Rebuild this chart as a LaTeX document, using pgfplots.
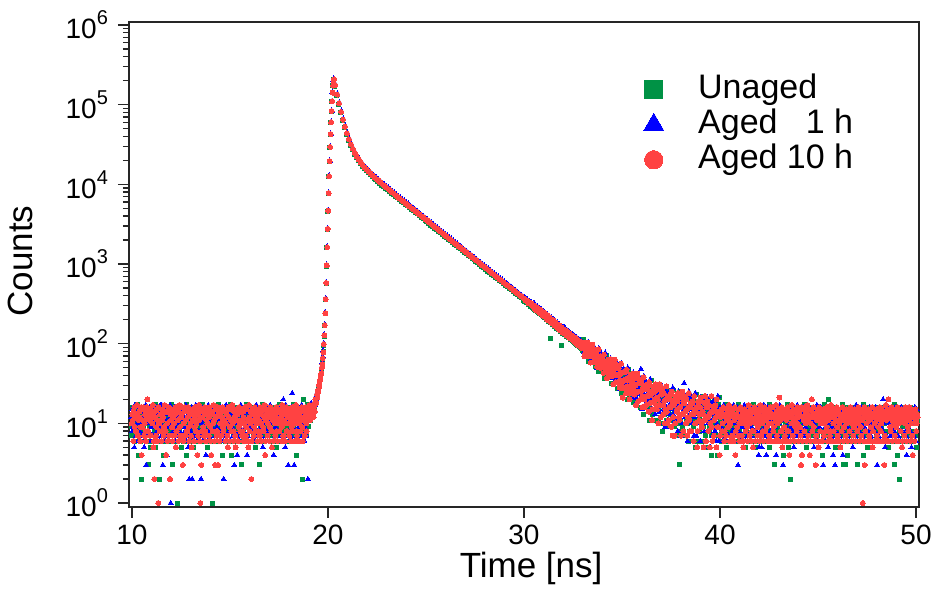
\documentclass[border=0pt]{standalone}
\usepackage{pgfplots}
\pgfplotsset{compat=1.18}
\usepackage{pgfplotstable}
\usepackage{fontspec}
\setmainfont{Liberation Sans}
\definecolor{cG}{RGB}{0,146,69}
\definecolor{cB}{RGB}{0,0,255}
\definecolor{cR}{RGB}{255,66,66}
\newcommand{\ex}[1]{10\raisebox{7pt}{\fontsize{10}{10}\selectfont #1}}
\pgfplotsset{
 gmark/.style={only marks, mark=square*, mark size=1pt, color=cG, mark options={solid, line width=0pt}, forget plot},
 bmark/.style={only marks, mark=triangle*, mark size=1.45pt, color=cB, mark options={solid, line width=0pt}, forget plot},
 rmark/.style={only marks, mark=*, mark size=1.25pt, color=cR, mark options={solid, line width=0pt}, forget plot},
 mylegimg/.style={legend image code/.code={\path (0pt,-5pt) (30pt,5pt); \draw[##1] plot coordinates {(8pt,0pt)};}},
}
% columns: Unaged, Aged 1 h, Aged 10 h  (counts)
% background before the pulse, t = 9.96 + 0.05 i
\pgfplotstableread[header=false]{
9 12 10
13 8 11
7 11 14
11 5 9
10 14 8
12 9 13
8 10 7
14 13 11
4 7 12
11 10 9
10 15 4
2 9 11
12 11 16
9 5 10
15 12 8
8 3 12
11 10 20
13 8 14
3 12 11
10 16 7
5 9 13
12 11 10
9 13 5
11 7 2
14 10 12
5 12 9
10 8 11
12 11 1
8 14 10
2 9 13
13 10 8
9 17 11
11 3 12
4 12 9
15 8 14
10 11 4
12 4 10
6 13 15
11 9 7
9 12 2
14 1 11
10 10 9
3 14 12
12 7 10
8 11 13
11 9 5
16 12 8
1 10 11
9 15 14
13 8 9
10 11 12
5 13 7
12 6 3
11 10 10
9 12 16
14 9 11
4 14 8
10 11 12
13 5 9
8 2 13
11 10 10
9 12 5
12 2 11
10 9 14
5 11 9
15 13 12
10 8 10
8 16 4
12 10 13
11 7 11
9 12 1
13 2 3
7 10 12
10 14 9
12 9 15
16 11 8
9 4 11
11 13 10
5 10 14
10 8 12
13 12 9
8 11 4
11 9 13
1 14 10
12 10 11
9 6 3
14 12 12
10 9 8
7 13 3
12 11 15
11 8 10
9 15 7
13 10 12
4 12 9
10 2 11
12 9 14
8 11 10
15 7 13
11 13 5
9 10 12
12 16 9
10 8 11
4 11 15
13 9 10
9 12 8
11 3 12
14 10 5
8 13 11
10 4 13
12 11 9
9 14 10
11 9 14
15 7 11
3 12 8
10 10 12
12 13 10
7 9 16
11 11 9
13 4 11
9 12 5
10 15 12
12 10 10
8 9 2
14 11 13
11 8 11
9 13 9
13 10 14
5 12 10
10 7 12
12 11 8
11 14 11
3 10 13
9 9 10
14 12 15
10 5 9
12 11 12
8 13 4
11 10 11
15 8 13
9 12 10
10 9 12
13 11 9
7 14 14
11 10 5
12 12 11
9 4 13
14 11 10
10 9 12
5 13 8
12 10 11
11 12 14
9 8 10
13 11 12
10 17 9
12 10 13
8 20 11
15 13 10
11 5 15
9 12 8
10 11 12
12 3 10
14 10 13
8 14 11
11 9 9
10 24 12
13 11 14
9 3 10
12 12 12
10 10 8
4 13 11
13 9 13
11 11 10
9 14 15
12 8 12
16 12 9
2 10 11
20 13 14
11 9 12
10 12 10
13 11 13
12 2 12
9 13 14
14 11 11
11 15 13
13 12 16
12 14 13
}\bgL
% background before the pulse, interleaved channels, t = 9.985 + 0.05 i
\pgfplotstableread[header=false]{
7 15 13
16 9 6
11 6 16
6 17 12
14 7 8
9 13 17
17 6 7
7 16 14
13 8 6
6 14 16
15 7 9
8 12 15
16 6 7
7 15 13
12 17 6
14 7 16
6 13 8
15 8 14
9 16 7
7 6 15
16 14 12
6 7 17
14 15 6
8 6 14
17 13 7
7 16 15
13 7 6
6 14 16
15 6 8
8 17 13
16 7 6
6 13 15
14 8 7
7 16 17
12 6 8
16 15 14
6 7 6
15 14 16
7 6 7
14 17 13
8 7 15
17 15 6
6 8 14
13 16 7
16 6 16
7 14 8
14 7 15
6 13 6
15 8 17
8 16 7
16 6 13
7 15 16
13 7 6
6 14 14
15 8 7
9 17 15
17 6 8
6 13 16
14 7 6
7 15 14
16 8 7
8 16 15
6 6 13
15 14 6
13 7 16
7 17 8
16 6 14
6 15 7
14 8 17
8 13 6
15 7 15
7 16 8
17 6 14
6 14 7
13 7 16
7 15 6
16 8 13
8 6 15
14 17 7
6 7 16
15 14 6
7 6 14
16 15 8
8 8 17
13 16 6
6 7 15
15 13 7
7 6 16
14 15 13
17 8 6
6 16 14
15 7 7
8 14 16
16 6 8
7 15 15
13 7 6
6 17 14
16 6 7
7 14 16
14 8 6
8 15 15
17 6 8
6 13 17
15 7 6
7 16 14
14 8 7
6 6 15
16 15 13
8 7 6
13 14 16
7 6 8
15 17 15
6 7 7
16 13 14
8 8 6
14 16 16
6 6 7
17 15 15
7 7 6
13 14 17
6 8 8
15 16 14
8 6 6
16 13 15
7 7 7
14 15 16
6 6 8
15 17 13
7 8 6
16 14 15
8 6 7
13 16 16
6 7 6
17 15 14
7 6 8
14 13 17
6 8 6
15 16 15
8 7 7
16 14 14
7 6 6
13 17 16
6 8 8
15 15 13
7 6 6
16 14 15
8 7 7
14 16 16
6 6 6
15 13 14
7 8 8
17 15 15
6 7 6
14 16 17
8 6 7
16 14 14
7 7 6
13 17 16
6 8 8
15 15 13
8 6 7
16 13 15
7 7 6
14 16 16
6 6 8
17 14 14
7 8 6
15 15 17
6 7 7
16 16 15
8 6 6
13 13 14
7 8 8
15 17 16
6 7 6
16 14 15
8 6 7
14 16 16
7 7 8
17 15 14
9 13 15
15 16 17
12 14 13
16 18 15
14 15 17
15 17 16
}\bgM
% rising edge, t = 19.25 + 0.025 i
\pgfplotstableread[header=false]{
13 16 12
17 14 15
15 18 17
16 19 14
19 17 20
18 22 19
21 20 18
20 24 23
24 23 21
23 27 26
28 26 25
27 31 30
32 30 29
31 36 34
37 35 36
39 43 41
45 44 42
48 52 50
57 58 55
64 69 66
80 82 78
96 102 99
124 131 127
168 176 171
236 249 241
355 372 362
562 590 578
941 980 958
1600 1660 1625
2720 2810 2760
4620 4760 4680
7680 7900 7770
12480 12800 12600
19350 19800 19520
29300 29900 29520
42400 43100 42700
59900 60800 60300
82700 83900 83200
109000 110500 109700
140500 142300 141300
172900 175100 173900
198500 201200 199600
208000 210500 209000
}\rise
% decay, t = 20.35 + 0.1 i
\pgfplotstableread[header=false]{
171000 181000 176000
130000 138500 134000
100500 107000 103500
79000 84000 81300
63000 67000 65000
51200 54500 52800
42400 45100 43700
35800 38100 36900
30800 32800 31800
27000 28700 27900
24000 25600 24800
21700 23000 22350
19800 21000 20400
18200 19400 18800
16900 18000 17450
15800 16800 16300
14850 15800 15300
14000 14900 14450
13250 14050 13650
12550 13350 12950
11900 12650 12280
11350 12050 11700
10800 11450 11120
10250 10900 10600
9800 10400 10100
9350 9930 9640
8920 9470 9200
8510 9040 8770
8120 8630 8380
7760 8240 8000
7400 7860 7630
7050 7490 7270
6740 7150 6950
6430 6830 6640
6140 6530 6330
5870 6230 6050
5600 5950 5780
5350 5680 5520
5110 5430 5270
4880 5190 5030
4660 4950 4810
4450 4730 4590
4250 4520 4390
4060 4310 4190
3880 4120 4000
3710 3940 3820
3540 3760 3650
3380 3590 3490
3230 3430 3330
3080 3280 3180
2950 3130 3040
2810 2990 2900
2690 2850 2770
2570 2730 2650
2450 2600 2530
2340 2490 2410
2240 2380 2310
2140 2270 2200
2040 2170 2100
1950 2070 2010
1860 1980 1920
1780 1890 1830
1700 1800 1750
1620 1720 1670
1550 1650 1600
1480 1570 1530
1410 1500 1460
1350 1430 1390
1290 1370 1330
1230 1310 1270
1180 1250 1220
1125 1195 1160
1075 1140 1110
1030 1090 1060
980 1045 1010
935 995 965
895 950 925
855 910 885
815 870 845
780 830 805
745 795 770
712 758 735
680 725 705
650 692 670
622 662 640
595 632 615
567 605 585
543 577 560
518 552 535
495 528 512
473 504 490
453 482 468
432 461 447
414 441 428
396 421 409
378 403 391
362 385 374
}\decay
% tail and background after the pulse, t = 30 + 0.05 i
\pgfplotstableread[header=false]{
352 378 366
340 369 349
338 355 352
325 356 338
329 341 320
306 342 331
312 330 314
296 325 318
301 309 296
283 318 301
280 301 290
272 296 281
270 285 283
258 287 268
262 271 260
245 276 264
250 259 248
236 262 252
240 248 238
226 251 242
224 240 229
215 238 225
216 224 218
203 229 212
207 214 208
192 218 210
198 205 196
115 208 199
189 194 186
176 199 191
178 190 182
168 187 176
170 176 179
158 181 168
164 165 172
150 174 160
156 158 163
141 165 152
96 151 157
136 158 146
140 155 147
134 151 140
137 141 145
126 148 132
131 133 138
120 142 127
125 126 133
114 134 121
121 118 127
110 128 115
112 124 118
106 121 110
110 109 116
100 117 104
104 102 111
95 112 99
101 97 106
91 108 96
97 93 103
87 104 92
83 85 94
112 98 69
69 77 103
93 100 81
79 85 92
91 104 98
60 75 69
80 82 79
65 59 71
77 90 97
58 71 59
79 80 80
67 87 68
84 60 79
58 70 51
65 62 69
45 87 56
73 51 67
55 71 50
64 59 68
70 70 57
46 44 73
54 60 49
48 49 56
71 59 37
38 43 63
57 61 48
46 50 55
56 65 61
32 43 39
49 50 48
38 32 42
47 57 63
33 42 33
49 50 50
40 55 40
54 34 49
33 42 28
40 37 42
24 56 32
46 29 21
33 45 28
40 36 44
45 44 35
27 24 47
34 38 29
29 29 35
47 37 20
21 25 41
37 39 29
29 31 36
37 43 40
18 26 23
31 31 30
22 18 17
30 37 42
19 26 19
32 32 33
25 37 25
36 48 33
21 27 16
26 23 28
13 39 20
31 17 27
21 30 17
27 23 29
31 30 22
16 14 33
22 25 18
18 18 23
34 25 11
13 15 29
25 27 19
19 21 25
26 31 29
11 17 15
21 22 20
15 10 17
21 27 31
12 17 12
24 23 24
8 27 17
27 14 24
14 19 10
9 16 20
10 29 14
23 11 20
15 22 11
20 17 22
24 23 16
11 9 25
16 19 7
13 13 17
26 19 7
9 11 22
20 21 14
14 16 19
20 25 23
7 12 11
3 16 16
11 7 13
17 21 25
9 13 8
19 32 19
14 22 14
22 10 20
11 15 7
15 12 16
6 25 11
20 8 16
12 18 8
17 13 18
20 19 13
9 7 22
14 16 10
11 10 14
23 16 5
6 8 19
17 18 11
12 13 16
17 21 19
6 10 9
14 14 13
9 5 11
14 19 22
7 11 6
16 16 16
12 19 12
20 8 17
9 13 5
13 11 14
4 22 9
17 7 14
10 16 7
15 12 16
18 17 12
7 6 20
12 14 9
9 9 13
21 14 4
11 14 12
13 9 15
8 12 10
12 15 13
10 11 8
14 8 12
9 13 11
5 10 14
12 12 9
11 14 12
15 9 10
8 11 13
12 13 7
10 8 12
13 12 11
9 10 4
11 15 13
14 11 9
10 3 12
12 13 10
7 10 15
13 12 11
11 9 13
9 14 5
12 11 10
15 8 12
10 13 14
8 10 9
13 12 11
11 7 13
9 14 10
12 11 12
14 9 8
10 12 5
7 15 11
12 10 14
5 13 10
11 8 12
13 11 9
10 4 13
12 12 11
9 10 15
14 5 10
11 13 8
8 11 12
12 9 14
10 14 11
13 4 9
9 12 13
11 10 10
5 13 12
12 8 16
14 11 10
10 15 12
8 10 9
12 12 13
3 9 11
11 4 14
13 13 10
9 11 12
12 10 21
10 14 11
14 8 13
11 12 5
8 3 12
4 11 9
12 13 14
10 9 11
13 12 8
9 15 12
11 10 4
14 12 13
2 9 10
12 13 12
10 11 15
13 5 11
8 12 9
11 14 13
15 10 10
9 8 12
12 13 14
10 11 9
13 9 3
11 14 4
8 12 12
12 10 11
10 13 15
14 9 10
5 12 13
11 15 11
9 10 12
13 12 4
12 8 10
10 13 20
8 11 12
12 14 9
14 10 13
11 9 3
9 12 11
12 11 13
10 13 5
13 9 12
11 12 10
8 10 14
12 14 11
4 3 13
10 11 10
13 9 12
11 13 9
9 12 14
12 5 11
20 10 13
10 13 8
11 11 12
13 9 15
9 4 10
12 12 12
10 3 13
5 14 11
12 11 9
11 10 14
13 12 10
9 13 5
12 10 12
10 11 13
14 4 11
3 12 9
11 14 12
3 10 14
12 13 10
4 9 12
13 11 11
10 12 15
12 8 13
9 13 10
11 5 12
14 11 9
10 14 13
12 10 11
8 12 14
3 11 10
12 9 12
11 13 13
13 10 9
9 12 11
12 11 1
4 14 12
10 9 3
13 12 13
11 10 10
5 13 12
12 11 14
10 8 11
14 12 9
9 10 13
12 14 5
11 11 12
13 9 10
10 12 14
8 13 11
12 3 12
11 10 9
14 12 13
10 11 11
12 9 10
9 13 12
11 20 14
13 10 3
10 5 12
12 12 11
8 11 13
11 14 20
5 10 12
13 12 9
10 9 14
12 13 11
9 11 13
14 10 10
3 12 12
11 13 9
12 9 14
4 11 11
13 12 10
2 10 13
10 14 12
12 11 5
9 13 11
11 10 14
13 12 10
10 8 12
12 4 13
14 11 9
9 13 11
11 10 12
12 12 14
10 5 10
13 11 4
11 14 12
8 10 13
12 12 11
5 11 10
11 13 12
}\tail
% tail, interleaved channels, t = 30.525 + 0.05 i
\pgfplotstableread[header=false]{
290 318 270
262 300 289
281 287 258
250 292 276
272 276 250
241 281 268
260 262 238
229 268 257
248 252 226
220 255 245
238 247 218
211 243 236
226 228 205
199 232 224
215 217 196
190 222 213
205 208 187
182 211 203
196 199 178
172 201 194
188 196 170
165 192 185
180 181 162
156 184 176
172 172 154
150 176 168
164 165 146
143 167 160
156 157 139
137 160 153
150 158 135
130 154 148
143 145 128
124 148 141
137 138 122
119 141 135
131 132 117
113 134 129
126 127 112
108 129 123
121 128 106
104 124 119
116 115 101
98 119 113
110 109 96
94 114 107
105 104 92
89 109 103
102 100 87
85 104 98
103 78 97
82 102 75
92 87 98
99 100 84
69 68 103
80 88 73
71 73 81
98 85 58
58 65 89
80 86 69
68 73 79
79 90 85
51 64 59
69 71 68
56 50 61
67 79 85
50 61 50
69 69 70
57 76 58
74 52 69
50 61 43
56 53 60
37 77 48
64 43 59
48 63 43
56 51 60
61 61 49
39 37 64
48 53 42
42 42 49
63 52 31
32 37 56
50 54 41
40 44 49
50 58 54
27 37 33
42 43 41
32 27 35
42 50 56
28 36 28
44 44 44
34 48 35
48 30 44
29 37 24
35 32 37
20 50 28
41 25 37
29 40 24
35 31 38
41 40 31
23 21 42
30 34 26
25 25 31
42 32 17
18 21 37
32 35 25
25 28 32
32 38 36
16 23 20
27 27 26
20 15 22
27 34 38
16 23 16
29 29 30
22 33 22
33 18 30
18 24 14
23 20 25
11 36 18
29 15 25
19 27 15
25 21 27
29 28 20
15 13 31
20 23 17
17 16 21
31 23 10
11 14 27
23 25 17
17 19 23
24 29 27
10 15 13
20 20 19
13 9 15
20 25 29
11 16 10
22 22 22
16 25 16
26 13 23
13 18 9
17 15 19
7 28 12
22 10 19
14 21 10
19 15 21
22 22 15
10 8 24
16 18 12
12 12 16
25 18 7
8 10 21
19 20 13
13 15 18
19 23 22
7 12 10
16 16 15
10 6 12
16 21 24
8 13 8
18 18 18
13 21 13
21 10 19
10 15 6
14 12 15
5 24 10
19 7 16
11 18 8
16 13 18
19 18 13
8 6 21
13 15 10
10 10 14
22 15 5
6 8 18
16 17 11
11 12 16
17 21 19
5 10 8
14 14 13
8 5 10
14 18 22
7 11 6
16 16 16
11 19 11
19 8 17
9 13 5
12 10 14
4 22 9
17 6 14
10 16 7
16 7 14
6 15 8
13 6 16
7 17 6
15 8 13
8 14 7
17 6 15
6 13 9
14 7 17
7 16 6
15 6 14
6 14 7
16 8 15
8 17 6
13 6 16
7 15 8
14 7 13
6 16 7
17 8 15
8 13 6
14 6 16
6 15 7
16 7 14
7 13 6
15 17 15
5 6 8
13 14 13
8 7 6
16 15 17
6 6 7
14 16 15
7 7 6
15 13 14
6 8 8
17 15 16
8 6 6
13 14 13
6 7 7
16 16 15
7 5 6
15 14 17
6 8 7
14 15 14
8 6 6
16 17 16
7 7 8
13 13 13
6 6 6
15 16 15
8 7 7
17 14 14
6 6 6
14 15 16
7 8 8
16 13 13
6 7 6
13 16 17
8 6 7
15 14 15
7 7 6
14 17 14
6 6 8
16 15 16
7 8 6
13 13 15
6 6 7
15 14 13
8 7 6
17 16 16
5 6 8
14 15 14
7 7 6
16 13 17
6 8 7
13 16 15
8 6 6
15 14 14
6 7 8
14 17 16
7 6 6
16 15 13
6 8 7
13 14 16
8 6 6
15 16 15
7 7 8
17 13 14
6 6 6
14 15 17
8 7 7
13 16 15
6 6 6
16 14 14
7 8 8
14 15 16
6 5 6
15 13 13
8 7 7
16 17 15
7 6 6
14 14 16
6 8 8
15 16 14
8 6 6
13 13 15
7 7 7
17 15 13
6 6 8
14 14 16
7 8 6
16 16 14
6 6 7
13 14 17
8 7 6
15 15 15
6 6 8
14 13 14
7 8 6
16 16 16
8 6 7
13 15 15
6 7 6
15 14 13
7 6 8
17 16 16
6 8 6
14 13 14
8 6 7
15 15 15
6 7 6
16 14 14
7 6 8
14 16 16
6 8 6
13 15 13
8 6 7
15 13 15
6 7 6
16 17 14
7 6 8
14 15 16
6 8 6
15 14 15
8 6 7
13 16 14
6 7 6
17 14 16
7 6 8
14 15 13
6 8 6
16 13 15
7 6 7
14 16 14
6 7 6
15 15 16
8 6 8
13 14 13
6 8 6
16 16 15
7 6 7
15 14 14
6 7 6
13 15 16
8 6 8
16 13 15
6 8 6
14 16 14
7 6 7
15 14 17
6 7 6
14 16 15
8 6 6
16 14 14
6 7 8
13 15 16
7 6 6
15 13 13
6 8 7
17 16 15
7 6 6
13 15 16
6 7 6
15 14 14
8 6 8
14 16 15
6 8 6
16 13 13
7 6 7
14 15 16
6 7 6
15 14 14
7 6 8
13 16 16
6 8 6
16 15 15
8 6 7
14 13 14
6 7 6
15 16 15
7 6 8
14 15 13
}\tailM
\begin{document}
\begin{tikzpicture}
\begin{axis}[
  scale only axis, width=395pt, height=242.5pt,
  xmin=9.85, xmax=50.15,
  ymode=log, ymin=0.891, ymax=1.09e6,
  axis line style={line width=0.7pt, black!85},
  every tick/.style={line width=0.7pt, black!85},
  tick align=outside, tick pos=left,
  major tick length=5.5pt, minor tick length=3pt,
  xtick={10,20,30,40,50},
  ytick={1e0,1e1,1e2,1e3,1e4,1e5,1e6},
  yticklabels={\ex{0},\ex{1},\ex{2},\ex{3},\ex{4},\ex{5},\ex{6}},
  minor ytick={2,3,4,5,6,7,8,9,20,30,40,50,60,70,80,90,200,300,400,500,600,700,800,900,2000,3000,4000,5000,6000,7000,8000,9000,2e4,3e4,4e4,5e4,6e4,7e4,8e4,9e4,2e5,3e5,4e5,5e5,6e5,7e5,8e5,9e5},
  ticklabel style={font=\fontsize{14}{16}\selectfont},
  yticklabel style={xshift=-1.5pt},
  /pgf/number format/assume math mode=true,
  xlabel={Time [ns]}, ylabel={Counts},
  label style={font=\fontsize{17.5}{20}\selectfont},
  xlabel style={at={([yshift=-35.5pt]axis description cs:0.509,0)}, anchor=base},
  ylabel style={at={([xshift=-48pt]axis description cs:0,0.507)}, anchor=base},
  legend style={at={(axis description cs:0.643,0.893)}, anchor=north west, draw=none, fill=none,
    font=\fontsize{17}{20}\selectfont, inner sep=0pt, row sep=2pt,
    nodes={inner sep=0pt, text height=12pt, text depth=3.5pt}},
  legend cell align=left,
]
\addlegendimage{only marks, mark=square*, mark size=4.5pt, color=cG, mark options={solid, line width=0pt}, mylegimg}
\addlegendentry{Unaged}
\addlegendimage{only marks, mark=triangle*, mark size=5.8pt, color=cB, mark options={solid, line width=0pt}, mylegimg}
\addlegendentry{Aged \phantom{0}1 h}
\addlegendimage{only marks, mark=*, mark size=4.6pt, color=cR, mark options={solid, line width=0pt}, mylegimg}
\addlegendentry{Aged 10 h}

\addplot[gmark] table[x expr=9.96+0.05*\coordindex, y index=0]{\bgL};
\addplot[gmark] table[x expr=9.985+0.05*\coordindex, y index=0]{\bgM};
\addplot[gmark] table[x expr=19.25+0.025*\coordindex, y index=0]{\rise};
\addplot[gmark] table[x expr=20.35+0.1*\coordindex, y index=0]{\decay};
\addplot[gmark] table[x expr=30+0.05*\coordindex, y index=0]{\tail};
\addplot[gmark] table[x expr=30.525+0.05*\coordindex, y index=0]{\tailM};

\addplot[bmark] table[x expr=9.977+0.05*\coordindex, y index=1]{\bgL};
\addplot[bmark] table[x expr=10.002+0.05*\coordindex, y index=1]{\bgM};
\addplot[bmark] table[x expr=19.256+0.025*\coordindex, y index=1]{\rise};
\addplot[bmark] table[x expr=20.383+0.1*\coordindex, y index=1]{\decay};
\addplot[bmark] table[x expr=30.017+0.05*\coordindex, y index=1]{\tail};
\addplot[bmark] table[x expr=30.542+0.05*\coordindex, y index=1]{\tailM};

\addplot[rmark] table[x expr=9.993+0.05*\coordindex, y index=2]{\bgL};
\addplot[rmark] table[x expr=10.018+0.05*\coordindex, y index=2]{\bgM};
\addplot[rmark] table[x expr=19.262+0.025*\coordindex, y index=2]{\rise};
\addplot[rmark] table[x expr=20.367+0.1*\coordindex, y index=2]{\decay};
\addplot[rmark] table[x expr=30.033+0.05*\coordindex, y index=2]{\tail};
\addplot[rmark] table[x expr=30.558+0.05*\coordindex, y index=2]{\tailM};

\coordinate (BL) at (rel axis cs:0,0);
\coordinate (TR) at (rel axis cs:1,1);
\end{axis}
\pgfresetboundingbox
\path[use as bounding box] ([shift={(-64.5pt,-46pt)}]BL) rectangle ([shift={(7pt,11pt)}]TR);
\end{tikzpicture}
\end{document}
